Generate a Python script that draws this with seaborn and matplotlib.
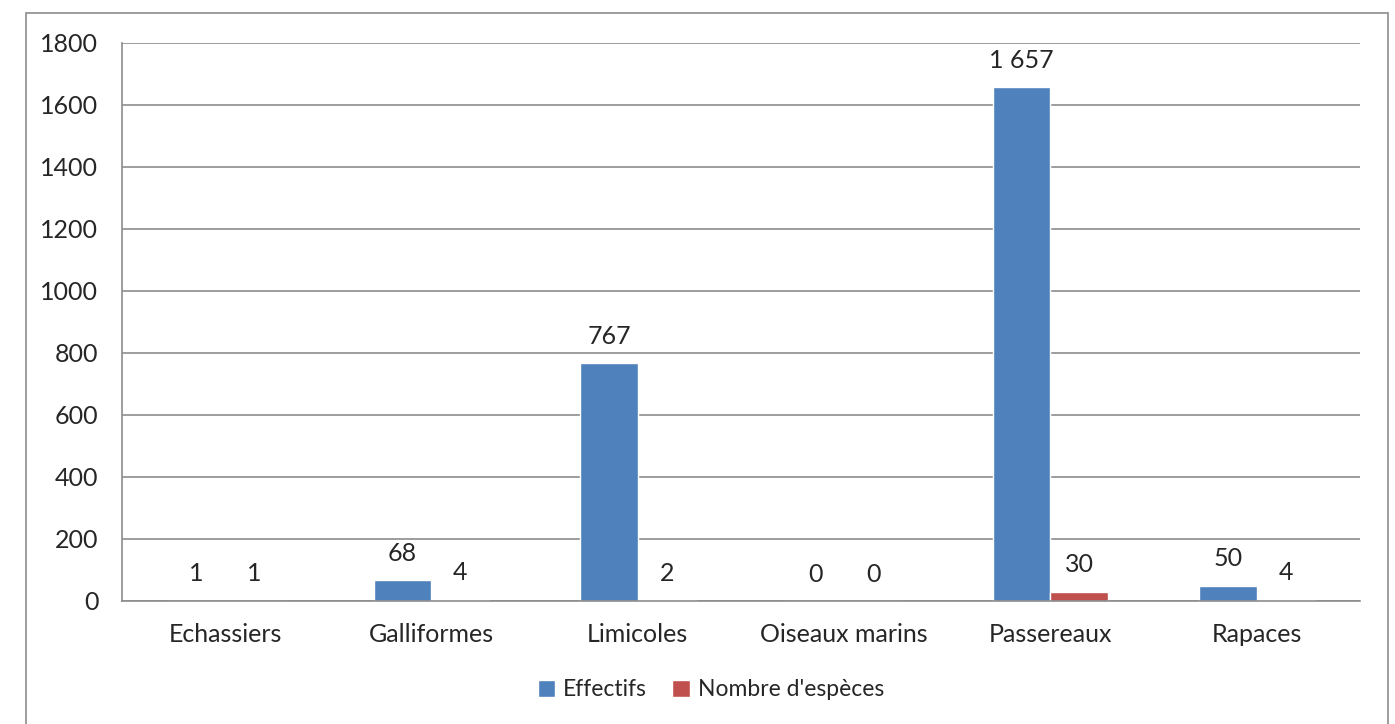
import pandas as pd
import numpy as np
import matplotlib.pyplot as plt
import seaborn as sns
from matplotlib.patches import Rectangle

categories = ['Echassiers', 'Galliformes', 'Limicoles', 'Oiseaux marins', 'Passereaux', 'Rapaces']
effectifs = [1, 68, 767, 0, 1657, 50]
nb_especes = [1, 4, 2, 0, 30, 4]
series = ['Effectifs', "Nombre d'espèces"]
colors = ['#4F81BD', '#C0504D']

df = pd.DataFrame({
    'categorie': categories * 2,
    'valeur': effectifs + nb_especes,
    'serie': [series[0]] * len(categories) + [series[1]] * len(categories),
})

sns.set_style('white')
plt.rcParams['font.family'] = ['Lato', 'DejaVu Sans']
fs = 18

fig = plt.figure(figsize=(13.95, 7.24), dpi=100)
ax = fig.add_axes([122 / 1395, 1 - 601 / 724, (1360 - 122) / 1395, (601 - 43) / 724])

sns.barplot(data=df, x='categorie', y='valeur', hue='serie', palette=colors,
            width=0.56, ax=ax, legend=True, saturation=1)

def fmt(v):
    return f"{int(v):,}".replace(',', ' ')

for cont in ax.containers:
    ax.bar_label(cont, labels=[fmt(b.get_height()) for b in cont], padding=11, fontsize=fs)

ax.set_ylim(0, 1800)
ax.set_yticks(range(0, 1801, 200))
ax.set_xlim(-0.5, 5.5)
ax.set_xlabel('')
ax.set_ylabel('')
ax.yaxis.grid(True, color='#8c8c8c', linewidth=1.2)
ax.set_axisbelow(True)
for s in ['top', 'right']:
    ax.spines[s].set_visible(False)
for s in ['left', 'bottom']:
    ax.spines[s].set_color('#8c8c8c')
    ax.spines[s].set_linewidth(1.2)

# x ticks at category boundaries
ax.set_xticks(np.arange(-0.5, 6.0, 1.0))
ax.set_xticklabels([''] * 7)
ax.set_xticks(np.arange(6), minor=True)
ax.set_xticklabels(categories, minor=True)
ax.tick_params(axis='x', which='major', length=7, color='#8c8c8c', width=1.2, direction='out')
ax.tick_params(axis='x', which='minor', length=0, pad=16, labelsize=fs)
ax.tick_params(axis='y', length=7, color='#8c8c8c', width=1.2, direction='out', pad=10, labelsize=fs)

leg = ax.legend(loc='center', bbox_to_anchor=(711 / 1395, 1 - 690 / 724),
                bbox_transform=fig.transFigure, ncol=2, frameon=False,
                handlelength=0.75, handleheight=0.75, handletextpad=0.35,
                columnspacing=1.1, fontsize=16.5)

fig.patches.append(Rectangle((26 / 1395, -0.01), (1388 - 26) / 1395, 1 - 13 / 724 + 0.01,
                             transform=fig.transFigure, fill=False,
                             edgecolor='#8c8c8c', linewidth=1.2))

fig.savefig('out.png', dpi=100)
